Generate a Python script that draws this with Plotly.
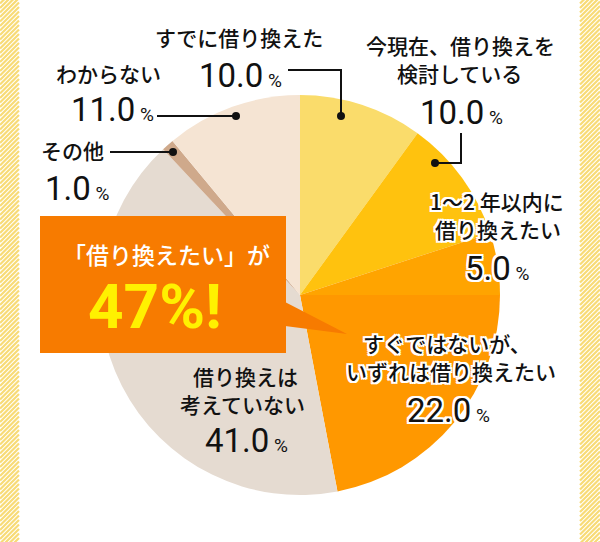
import plotly.graph_objects as go

# ---- data ----
labels = ["すでに借り換えた", "今現在、借り換えを検討している", "1〜2年以内に借り換えたい",
          "すぐではないが、いずれは借り換えたい", "借り換えは考えていない", "その他", "わからない"]
label_lines = [["すでに借り換えた"], ["今現在、借り換えを", "検討している"], ["1〜2 年以内に", "借り換えたい"],
               ["すぐではないが、", "いずれは借り換えたい"], ["借り換えは", "考えていない"], ["その他"], ["わからない"]]
values = [10.0, 10.0, 5.0, 22.0, 41.0, 1.0, 11.0]
colors = ["#FADC6B", "#FFC20E", "#FFA400", "#FF9800", "#E5DBD1", "#CFA98B", "#F5E4D3"]
callout_title = "「借り換えたい」が"
callout_value = "47%!"

W, H = 600, 542
JP = "Noto Sans CJK JP"
NUM = "Roboto"

fig = go.Figure()
# invisible helper trace to create a pixel-based cartesian frame
fig.add_trace(go.Scatter(x=[0, W], y=[0, H], mode="none", showlegend=False, hoverinfo="skip"))

cx, cy, r = 300, 295, 200
fig.add_trace(go.Pie(
    labels=labels, values=values, sort=False, direction="clockwise", rotation=0,
    marker=dict(colors=colors, line=dict(width=0)),
    textinfo="none", hoverinfo="label+percent", showlegend=False,
    domain=dict(x=[(cx - r) / W, (cx + r) / W], y=[1 - (cy + r) / H, 1 - (cy - r) / H]),
))

shapes = []
# striped side bands
def stripes(x0, x1):
    d = []
    w = x1 - x0
    y = -10.0
    while y < H + w + 10:
        d.append(f"M {x0} {y:.2f} L {x1} {y - w:.2f}")
        y += 4.5
    return " ".join(d)

for (a, b) in [(0, 19), (580, 600)]:
    shapes.append(dict(type="path", path=stripes(a, b), xref="x", yref="y",
                       line=dict(color="#F8DB76", width=2.2), layer="below"))

# leader lines and dots
leaders = [
    [(288, 70), (341, 70), (341, 116)],
    [(461, 133), (461, 163), (435, 163)],
    [(157, 116), (236, 116)],
    [(110, 152), (173, 152)],
]
for pts in leaders:
    p = "M " + " L ".join(f"{x} {y}" for x, y in pts)
    shapes.append(dict(type="path", path=p, xref="x", yref="y",
                       line=dict(color="#111", width=2), layer="above"))
    ex, ey = pts[-1]
    shapes.append(dict(type="circle", xref="x", yref="y", x0=ex - 4, x1=ex + 4, y0=ey - 4, y1=ey + 4,
                       fillcolor="#111", line=dict(width=0), layer="above"))

# callout box
shapes.append(dict(type="rect", xref="x", yref="y", x0=40, x1=286, y0=216, y1=353,
                   fillcolor="#F77B00", line=dict(width=0), layer="above"))
shapes.append(dict(type="path", xref="x", yref="y", path="M 285 302 L 347 334 L 285 326 Z",
                   fillcolor="#F77B00", line=dict(width=0), layer="above"))

WHITE_STROKE = ", ".join(f"{dx}px {dy}px 0 #fff" for dx, dy in
                         [(2, 0), (-2, 0), (0, 2), (0, -2), (2, 2), (-2, -2), (2, -2), (-2, 2)])

line_pos = [[(239, 37)], [(460, 45), (459, 73)], [(497, 201), (498, 229)],
            [(447, 343), (451, 371)], [(245, 376), (242, 404)], [(72, 150)], [(108, 73)]]
pct_pos = [(240, 75), (461, 112), (497, 268), (448, 410), (246, 440), (77, 188), (112, 109)]
stroked = [False, False, True, True, False, False, False]

annotations = []
for i in range(len(values)):
    sh = WHITE_STROKE if stroked[i] else "none"
    for line, (tx, ty) in zip(label_lines[i], line_pos[i]):
        annotations.append(dict(x=tx, y=ty, xref="x", yref="y", text=line, showarrow=False, borderpad=0,
                                font=dict(family=JP, size=21, color="#111", weight=500, shadow=sh),
                                xanchor="center", yanchor="middle"))
    px, py = pct_pos[i]
    annotations.append(dict(x=px, y=py, xref="x", yref="y", borderpad=0,
                            text=f"{values[i]:.1f}<span style='font-size:19px'> %</span>", showarrow=False,
                            font=dict(family=NUM, size=33, color="#111", shadow=sh),
                            xanchor="center", yanchor="middle"))

annotations.append(dict(x=166, y=254, xref="x", yref="y", text=callout_title, showarrow=False,
                        font=dict(family=JP, size=23, color="#fff", weight=500),
                        xanchor="center", yanchor="middle"))
annotations.append(dict(x=155, y=306, xref="x", yref="y", text=callout_value, showarrow=False,
                        font=dict(family=NUM, size=62, color="#FFF100", weight="bold"),
                        xanchor="center", yanchor="middle"))

fig.update_layout(
    width=W, height=H, margin=dict(l=0, r=0, t=0, b=0),
    paper_bgcolor="#fff", plot_bgcolor="#fff",
    xaxis=dict(range=[0, W], visible=False, fixedrange=True),
    yaxis=dict(range=[H, 0], visible=False, fixedrange=True),
    shapes=shapes, annotations=annotations,
)
fig.write_html("out.html")
